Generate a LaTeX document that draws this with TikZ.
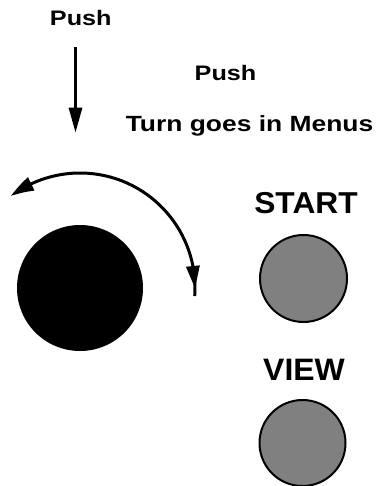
\documentclass[tikz,border=0pt]{standalone}
\usepackage{fontspec}
\setmainfont{Liberation Sans}
\usetikzlibrary{arrows.meta,bending,calc}
\begin{document}
\begin{tikzpicture}[x=1pt,y=-1pt,
  lbl/.style={inner sep=0pt,anchor=base,font=\bfseries},
  arcline/.style={line width=3pt},
  tip/.style={-{Triangle[length=24pt,width=14pt,bend]}},
  head/.style={fill=black,draw=none},
  btn/.style={circle,draw=black,line width=2pt,fill=gray,minimum size=87pt,inner sep=0pt}]
\useasboundingbox (0,0) rectangle (379,486);
% texts
\node[lbl] (push1) at (80.8,25.3) {\scalebox{1.2}[1]{\fontsize{21}{24}\selectfont Push}};
\node[lbl] (push2) at (225.5,80.7) {\scalebox{1.2}[1]{\fontsize{21}{24}\selectfont Push}};
\node[lbl] (turn) at (249.5,131.7) {\scalebox{1.2}[1]{\fontsize{22}{24}\selectfont Turn goes in Menus}};
\node[lbl] (start) at (306,213.3) {\scalebox{1.05}[1]{\fontsize{30.2}{34}\selectfont START}};
\node[lbl] (view) at (304,380.7) {\scalebox{1.03}[1]{\fontsize{31}{34}\selectfont VIEW}};
% knob
\node[circle,fill=black,minimum size=126pt,inner sep=0pt] (knob) at (80,288) {};
% buttons
\node[btn] (startbtn) at (303.5,278.5) {};
\node[btn,minimum size=86pt] (viewbtn) at (302.5,443) {};
% push arrow
\coordinate (pa) at (75.5,47);
\coordinate (pb) at (75.5,132.7);
\draw[line width=3pt,-{Triangle[length=25pt,width=13pt]}] (pa) -- (pb);
% turn arc
\draw[arcline,tip] ([shift={(4:115)}]knob.center) arc[start angle=4,end angle=-127,radius=115];
\coordinate (rt) at ([shift={(0:115)}]knob.center);
\coordinate (rb) at ([shift={(-11:115)}]knob.center);
\fill[head] (rt) -- ($(rb)!7pt!90:(rt)$) -- ($(rb)!7pt!-90:(rt)$) -- cycle;
\end{tikzpicture}
\end{document}
